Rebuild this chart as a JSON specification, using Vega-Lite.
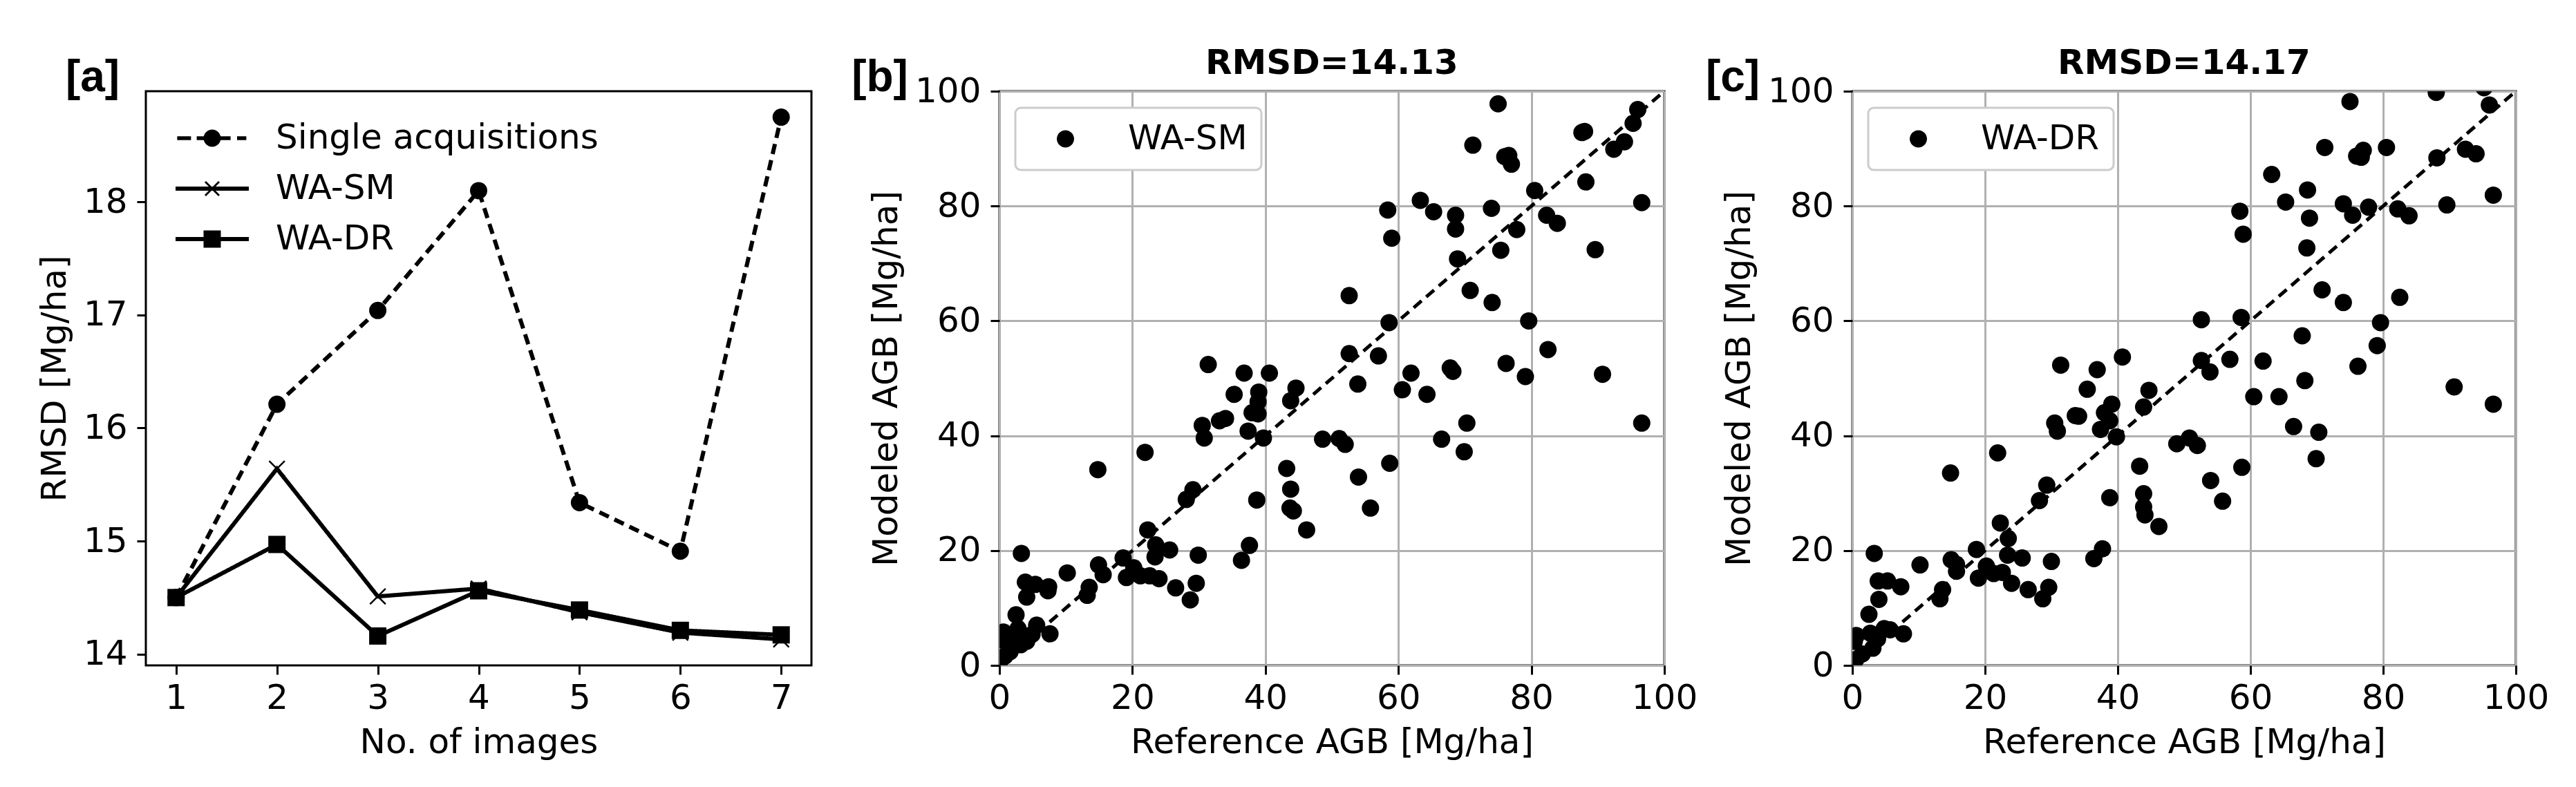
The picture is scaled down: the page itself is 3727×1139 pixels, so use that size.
{
  "$schema": "https://vega.github.io/schema/vega-lite/v6.json",
  "background": "white",
  "padding": {"left": 52, "top": 65, "right": 0, "bottom": 0},
  "bounds": "flush",
  "spacing": 272,
  "resolve": {
    "scale": {"color": "independent", "shape": "independent", "strokeDash": "independent"},
    "legend": {"color": "independent", "shape": "independent"}
  },
  "config": {
    "font": "DejaVu Sans",
    "view": {"stroke": "black", "strokeWidth": 3},
    "legend": {"strokeWidth": 3},
    "axis": {
      "domain": false,
      "tickColor": "black",
      "tickWidth": 3,
      "tickSize": 13,
      "labelColor": "black",
      "labelFontSize": 50,
      "titleColor": "black",
      "titleFontSize": 50,
      "titleFontWeight": "normal",
      "labelFlush": false,
      "labelOverlap": false,
      "gridColor": "#b0b0b0",
      "gridWidth": 3
    }
  },
  "datasets": {
    "rmsd": [
      {"images": 1, "rmsd": 14.5, "series": "Single acquisitions"},
      {"images": 2, "rmsd": 16.21, "series": "Single acquisitions"},
      {"images": 3, "rmsd": 17.04, "series": "Single acquisitions"},
      {"images": 4, "rmsd": 18.1, "series": "Single acquisitions"},
      {"images": 5, "rmsd": 15.34, "series": "Single acquisitions"},
      {"images": 6, "rmsd": 14.91, "series": "Single acquisitions"},
      {"images": 7, "rmsd": 18.75, "series": "Single acquisitions"},
      {"images": 1, "rmsd": 14.5, "series": "WA-SM"},
      {"images": 2, "rmsd": 15.64, "series": "WA-SM"},
      {"images": 3, "rmsd": 14.51, "series": "WA-SM"},
      {"images": 4, "rmsd": 14.58, "series": "WA-SM"},
      {"images": 5, "rmsd": 14.37, "series": "WA-SM"},
      {"images": 6, "rmsd": 14.19, "series": "WA-SM"},
      {"images": 7, "rmsd": 14.13, "series": "WA-SM"},
      {"images": 1, "rmsd": 14.5, "series": "WA-DR"},
      {"images": 2, "rmsd": 14.97, "series": "WA-DR"},
      {"images": 3, "rmsd": 14.16, "series": "WA-DR"},
      {"images": 4, "rmsd": 14.56, "series": "WA-DR"},
      {"images": 5, "rmsd": 14.39, "series": "WA-DR"},
      {"images": 6, "rmsd": 14.21, "series": "WA-DR"},
      {"images": 7, "rmsd": 14.17, "series": "WA-DR"}
    ],
    "one_to_one": [{"ref": 0, "mod": 0}, {"ref": 100, "mod": 100}],
    "wa_sm": [
      {"ref":75.0,"mod":97.8},{"ref":71.2,"mod":90.6},{"ref":76.0,"mod":88.6},{"ref":76.6,"mod":88.8},{"ref":77.0,"mod":87.3},
      {"ref":87.6,"mod":92.8},{"ref":88.0,"mod":93.0},{"ref":96.0,"mod":96.8},{"ref":95.3,"mod":94.4},{"ref":94.0,"mod":91.2},
      {"ref":92.4,"mod":89.9},{"ref":80.5,"mod":82.7},{"ref":88.2,"mod":84.2},{"ref":96.6,"mod":80.6},{"ref":58.4,"mod":79.3},
      {"ref":63.3,"mod":81.0},{"ref":65.3,"mod":79.0},{"ref":68.6,"mod":78.4},{"ref":68.6,"mod":76.0},{"ref":74.0,"mod":79.6},
      {"ref":82.3,"mod":78.4},{"ref":83.9,"mod":77.0},{"ref":77.8,"mod":75.9},{"ref":59.0,"mod":74.4},{"ref":75.4,"mod":72.3},
      {"ref":89.6,"mod":72.4},{"ref":68.9,"mod":70.8},{"ref":70.8,"mod":65.3},{"ref":74.1,"mod":63.2},{"ref":52.6,"mod":64.4},
      {"ref":58.6,"mod":59.7},{"ref":79.6,"mod":60.0},{"ref":52.6,"mod":54.3},{"ref":57.0,"mod":53.9},{"ref":82.5,"mod":55.0},
      {"ref":53.9,"mod":49.0},{"ref":61.9,"mod":50.9},{"ref":67.8,"mod":51.8},{"ref":68.2,"mod":51.2},{"ref":76.2,"mod":52.6},
      {"ref":79.1,"mod":50.3},{"ref":90.7,"mod":50.7},{"ref":60.6,"mod":48.0},{"ref":64.3,"mod":47.2},{"ref":70.3,"mod":42.2},
      {"ref":96.6,"mod":42.2},{"ref":66.5,"mod":39.4},{"ref":48.6,"mod":39.4},{"ref":51.1,"mod":39.5},{"ref":52.0,"mod":38.5},
      {"ref":31.4,"mod":52.4},{"ref":36.8,"mod":50.9},{"ref":40.6,"mod":50.9},{"ref":35.3,"mod":47.2},{"ref":39.0,"mod":47.6},
      {"ref":38.9,"mod":45.9},{"ref":38.0,"mod":44.0},{"ref":38.9,"mod":43.8},{"ref":44.6,"mod":48.3},{"ref":43.8,"mod":46.1},
      {"ref":33.1,"mod":42.6},{"ref":34.0,"mod":43.0},{"ref":30.5,"mod":41.8},{"ref":30.8,"mod":39.6},{"ref":37.4,"mod":40.8},
      {"ref":39.7,"mod":39.6},{"ref":21.9,"mod":37.1},{"ref":14.8,"mod":34.1},{"ref":43.2,"mod":34.3},{"ref":43.8,"mod":30.7},
      {"ref":38.7,"mod":28.8},{"ref":43.7,"mod":27.4},{"ref":44.2,"mod":26.9},{"ref":46.2,"mod":23.6},{"ref":29.1,"mod":30.6},
      {"ref":28.1,"mod":28.9},{"ref":55.8,"mod":27.4},{"ref":54.0,"mod":32.8},{"ref":58.7,"mod":35.2},{"ref":69.9,"mod":37.2},
      {"ref":22.3,"mod":23.6},{"ref":23.5,"mod":21.0},{"ref":25.6,"mod":20.1},{"ref":23.4,"mod":18.9},{"ref":29.9,"mod":19.2},
      {"ref":37.6,"mod":20.9},{"ref":36.4,"mod":18.3},{"ref":3.3,"mod":19.5},{"ref":18.6,"mod":18.7},{"ref":20.2,"mod":17.0},
      {"ref":14.9,"mod":17.5},{"ref":15.6,"mod":15.8},{"ref":19.1,"mod":15.3},{"ref":21.2,"mod":15.6},{"ref":22.6,"mod":15.6},
      {"ref":24.0,"mod":15.1},{"ref":26.5,"mod":13.5},{"ref":29.6,"mod":14.3},{"ref":28.7,"mod":11.4},{"ref":10.2,"mod":16.1},
      {"ref":3.9,"mod":14.5},{"ref":5.4,"mod":14.1},{"ref":7.4,"mod":13.7},{"ref":7.3,"mod":13.0},{"ref":4.1,"mod":11.9},
      {"ref":13.5,"mod":13.6},{"ref":13.2,"mod":12.2},{"ref":2.5,"mod":8.8},{"ref":2.8,"mod":6.4},{"ref":5.6,"mod":7.0},
      {"ref":7.6,"mod":5.5},{"ref":4.9,"mod":5.4},{"ref":4.1,"mod":4.2},{"ref":3.2,"mod":3.6},{"ref":1.6,"mod":2.4},
      {"ref":0.6,"mod":5.8},{"ref":0.4,"mod":4.4},{"ref":0.8,"mod":1.6},{"ref":2.5,"mod":5.0},{"ref":0.1,"mod":0.8}
    ],
    "wa_dr": [
      {"ref":75.0,"mod":98.2},{"ref":88.0,"mod":99.8},{"ref":95.2,"mod":100.6},{"ref":96.0,"mod":97.6},{"ref":71.2,"mod":90.2},
      {"ref":80.5,"mod":90.2},{"ref":77.0,"mod":89.7},{"ref":76.0,"mod":88.7},{"ref":76.7,"mod":88.5},{"ref":88.1,"mod":88.4},
      {"ref":92.4,"mod":89.9},{"ref":94.0,"mod":89.1},{"ref":63.2,"mod":85.5},{"ref":68.6,"mod":82.8},{"ref":65.3,"mod":80.7},
      {"ref":74.0,"mod":80.4},{"ref":77.8,"mod":79.8},{"ref":58.4,"mod":79.1},{"ref":75.4,"mod":78.4},{"ref":68.9,"mod":77.9},
      {"ref":82.2,"mod":79.5},{"ref":83.9,"mod":78.3},{"ref":89.6,"mod":80.2},{"ref":96.6,"mod":81.9},{"ref":58.9,"mod":75.1},
      {"ref":68.5,"mod":72.7},{"ref":70.8,"mod":65.4},{"ref":74.0,"mod":63.2},{"ref":82.5,"mod":64.1},{"ref":58.6,"mod":60.6},
      {"ref":52.6,"mod":60.2},{"ref":79.6,"mod":59.7},{"ref":67.8,"mod":57.4},{"ref":79.1,"mod":55.7},{"ref":52.6,"mod":53.1},
      {"ref":53.9,"mod":51.1},{"ref":56.9,"mod":53.3},{"ref":61.9,"mod":53.0},{"ref":76.2,"mod":52.1},{"ref":68.2,"mod":49.6},
      {"ref":90.7,"mod":48.5},{"ref":96.6,"mod":45.5},{"ref":60.5,"mod":46.8},{"ref":64.3,"mod":46.8},{"ref":66.5,"mod":41.6},
      {"ref":70.3,"mod":40.6},{"ref":69.9,"mod":36.0},{"ref":58.7,"mod":34.5},{"ref":54.0,"mod":32.2},{"ref":55.8,"mod":28.6},
      {"ref":40.7,"mod":53.7},{"ref":31.4,"mod":52.3},{"ref":36.9,"mod":51.5},{"ref":35.4,"mod":48.1},{"ref":39.1,"mod":45.5},
      {"ref":38.0,"mod":44.0},{"ref":38.8,"mod":42.6},{"ref":37.4,"mod":41.1},{"ref":44.7,"mod":47.9},{"ref":43.9,"mod":45.0},
      {"ref":33.6,"mod":43.5},{"ref":34.1,"mod":43.4},{"ref":30.5,"mod":42.2},{"ref":30.9,"mod":40.8},{"ref":39.8,"mod":39.8},
      {"ref":48.9,"mod":38.6},{"ref":50.8,"mod":39.6},{"ref":52.0,"mod":38.3},{"ref":21.9,"mod":37.0},{"ref":14.8,"mod":33.5},
      {"ref":43.3,"mod":34.7},{"ref":38.8,"mod":29.2},{"ref":43.9,"mod":29.9},{"ref":43.9,"mod":27.6},{"ref":44.1,"mod":26.2},
      {"ref":46.2,"mod":24.2},{"ref":29.3,"mod":31.4},{"ref":28.2,"mod":28.7},{"ref":22.3,"mod":24.8},{"ref":23.5,"mod":22.1},
      {"ref":23.4,"mod":19.2},{"ref":25.6,"mod":18.7},{"ref":30.0,"mod":18.1},{"ref":29.6,"mod":13.6},{"ref":28.7,"mod":11.6},
      {"ref":37.7,"mod":20.3},{"ref":36.4,"mod":18.6},{"ref":3.3,"mod":19.5},{"ref":18.7,"mod":20.2},{"ref":20.2,"mod":17.3},
      {"ref":14.9,"mod":18.4},{"ref":15.7,"mod":17.6},{"ref":15.7,"mod":16.4},{"ref":10.2,"mod":17.5},{"ref":19.0,"mod":15.2},
      {"ref":21.3,"mod":16.0},{"ref":22.6,"mod":16.2},{"ref":24.0,"mod":14.3},{"ref":26.5,"mod":13.2},{"ref":3.9,"mod":14.7},
      {"ref":5.3,"mod":14.7},{"ref":7.3,"mod":13.7},{"ref":4.0,"mod":11.5},{"ref":13.6,"mod":13.2},{"ref":13.2,"mod":11.6},
      {"ref":2.5,"mod":8.9},{"ref":7.7,"mod":5.5},{"ref":4.8,"mod":6.4},{"ref":5.7,"mod":6.2},{"ref":2.7,"mod":5.6},
      {"ref":0.6,"mod":5.2},{"ref":0.3,"mod":4.2},{"ref":3.8,"mod":4.6},{"ref":3.1,"mod":3.0},{"ref":1.5,"mod":2.0},{"ref":0.5,"mod":1.0}
    ]
  },
  "hconcat": [
    {
      "width": 963,
      "height": 831,
      "layer": [
        {
          "data": {"name": "rmsd"},
          "mark": {"type": "line", "color": "black", "strokeWidth": 6},
          "encoding": {
            "x": {
              "field": "images",
              "type": "quantitative",
              "scale": {"domain": [0.7, 7.3], "nice": false, "zero": false},
              "axis": {"values": [1, 2, 3, 4, 5, 6, 7], "format": "d", "grid": false, "title": "No. of images", "labelPadding": 9, "titlePadding": 14}
            },
            "y": {
              "field": "rmsd",
              "type": "quantitative",
              "scale": {"domain": [13.9, 18.98], "nice": false, "zero": false},
              "axis": {"values": [14, 15, 16, 17, 18], "format": "d", "grid": false, "title": "RMSD [Mg/ha]", "labelPadding": 14, "titlePadding": 16}
            },
            "strokeDash": {
              "field": "series",
              "type": "nominal",
              "scale": {"domain": ["WA-DR", "WA-SM", "Single acquisitions"], "range": [[1, 0], [1, 0], [15, 9]]},
              "legend": null
            }
          }
        },
        {
          "data": {"name": "rmsd"},
          "transform": [{"filter": "datum.series === 'Single acquisitions'"}],
          "mark": {"type": "point", "filled": true, "color": "black", "shape": "circle", "opacity": 1, "size": 625},
          "encoding": {
            "x": {"field": "images", "type": "quantitative"},
            "y": {"field": "rmsd", "type": "quantitative"}
          }
        },
        {
          "data": {"name": "rmsd"},
          "transform": [{"filter": "datum.series === 'WA-SM'"}],
          "mark": {"type": "point", "filled": false, "color": "black", "strokeWidth": 2.5, "shape": "M-0.9,-0.9L0.9,0.9M-0.9,0.9L0.9,-0.9", "opacity": 1, "size": 625},
          "encoding": {
            "x": {"field": "images", "type": "quantitative"},
            "y": {"field": "rmsd", "type": "quantitative"}
          }
        },
        {
          "data": {"name": "rmsd"},
          "transform": [{"filter": "datum.series === 'WA-DR'"}],
          "mark": {"type": "point", "filled": true, "color": "black", "shape": "square", "opacity": 1, "size": 625},
          "encoding": {
            "x": {"field": "images", "type": "quantitative"},
            "y": {"field": "rmsd", "type": "quantitative"}
          }
        },
        {
          "data": {"name": "rmsd"},
          "mark": {"type": "point", "filled": true, "color": "black", "opacity": 1, "size": 0},
          "encoding": {
            "x": {"field": "images", "type": "quantitative"},
            "y": {"field": "rmsd", "type": "quantitative"},
            "shape": {
              "field": "series",
              "type": "nominal",
              "scale": {
                "domain": ["Single acquisitions", "WA-SM", "WA-DR"],
                "range": [
                  "M-4.05,-.22H-2.45V.22H-4.05ZM-1.79,-.22H2.13V.22H-1.79ZM2.88,-.22H3.95V.22H2.88ZM-1,0A1,1 0 1 1 1,0A1,1 0 1 1 -1,0Z",
                  "M-4.24,-.24H4.24V.24H-4.24ZM-.88,-.72L-.72,-.88L.88,.72L.72,.88ZM-.88,.72L.72,-.88L.88,-.72L-.72,.88Z",
                  "M-4.24,-.24H4.24V.24H-4.24ZM-1,-1H1V1H-1Z"
                ]
              },
              "legend": {
                "orient": "none",
                "legendX": 71,
                "legendY": 43,
                "title": null,
                "padding": 0,
                "rowPadding": 23,
                "labelFontSize": 50,
                "labelColor": "black",
                "labelLimit": 800,
                "labelOffset": 67,
                "symbolSize": 625,
                "symbolFillColor": "black",
                "symbolStrokeWidth": 0
              }
            }
          }
        },
        {
          "data": {"values": [{"label": "[a]"}]},
          "mark": {"type": "text", "font": "Liberation Sans", "fontWeight": "bold", "fontSize": 64, "color": "black", "align": "center", "baseline": "middle", "xOffset": -77, "yOffset": -19},
          "encoding": {
            "x": {"datum": 0.7},
            "y": {"datum": 18.98},
            "text": {"field": "label"}
          }
        }
      ]
    },
    {
      "width": 962,
      "height": 831,
      "title": {"text": "RMSD=14.13", "fontSize": 50, "fontWeight": "bold", "color": "black", "offset": 14, "dy": 50},
      "layer": [
        {
          "data": {"name": "one_to_one"},
          "mark": {"type": "line", "color": "black", "strokeWidth": 5, "strokeDash": [15, 9], "clip": true},
          "encoding": {
            "x": {
              "field": "ref",
              "type": "quantitative",
              "scale": {"domain": [0, 100], "nice": false},
              "axis": {"values": [0, 20, 40, 60, 80, 100], "grid": true, "title": "Reference AGB [Mg/ha]", "labelPadding": 9, "titlePadding": 14}
            },
            "y": {
              "field": "mod",
              "type": "quantitative",
              "scale": {"domain": [0, 100], "nice": false},
              "axis": {"values": [0, 20, 40, 60, 80, 100], "grid": true, "title": "Modeled AGB [Mg/ha]", "labelPadding": 14, "titlePadding": 16}
            }
          }
        },
        {
          "data": {"name": "wa_sm"},
          "mark": {"type": "point", "filled": true, "opacity": 1, "size": 625, "clip": true},
          "encoding": {
            "x": {"field": "ref", "type": "quantitative"},
            "y": {"field": "mod", "type": "quantitative"},
            "color": {
              "datum": "WA-SM",
              "scale": {"range": ["black"]},
              "legend": {
                "orient": "none",
                "legendX": 23,
                "legendY": 24,
                "title": null,
                "padding": 20,
                "labelFontSize": 50,
                "labelColor": "black",
                "labelLimit": 400,
                "labelOffset": 93,
                "labelExpr": "datum.label + '\u00a0\u00a0'",
                "symbolType": "M1.2,0A1,1 0 1 1 3.2,0A1,1 0 1 1 1.2,0Z",
                "symbolSize": 625,
                "symbolFillColor": "black",
                "symbolStrokeWidth": 0,
                "fillColor": "white",
                "strokeColor": "#cccccc",
                "cornerRadius": 8
              }
            }
          }
        },
        {
          "data": {"values": [{"label": "[b]"}]},
          "mark": {"type": "text", "font": "Liberation Sans", "fontWeight": "bold", "fontSize": 64, "color": "black", "align": "center", "baseline": "middle", "xOffset": -173, "yOffset": -19},
          "encoding": {
            "x": {"datum": 0},
            "y": {"datum": 100},
            "text": {"field": "label"}
          }
        }
      ]
    },
    {
      "width": 960,
      "height": 831,
      "title": {"text": "RMSD=14.17", "fontSize": 50, "fontWeight": "bold", "color": "black", "offset": 14, "dy": 50},
      "layer": [
        {
          "data": {"name": "one_to_one"},
          "mark": {"type": "line", "color": "black", "strokeWidth": 5, "strokeDash": [15, 9], "clip": true},
          "encoding": {
            "x": {
              "field": "ref",
              "type": "quantitative",
              "scale": {"domain": [0, 100], "nice": false},
              "axis": {"values": [0, 20, 40, 60, 80, 100], "grid": true, "title": "Reference AGB [Mg/ha]", "labelPadding": 9, "titlePadding": 14}
            },
            "y": {
              "field": "mod",
              "type": "quantitative",
              "scale": {"domain": [0, 100], "nice": false},
              "axis": {"values": [0, 20, 40, 60, 80, 100], "grid": true, "title": "Modeled AGB [Mg/ha]", "labelPadding": 14, "titlePadding": 16}
            }
          }
        },
        {
          "data": {"name": "wa_dr"},
          "mark": {"type": "point", "filled": true, "opacity": 1, "size": 625, "clip": true},
          "encoding": {
            "x": {"field": "ref", "type": "quantitative"},
            "y": {"field": "mod", "type": "quantitative"},
            "color": {
              "datum": "WA-DR",
              "scale": {"range": ["black"]},
              "legend": {
                "orient": "none",
                "legendX": 23,
                "legendY": 24,
                "title": null,
                "padding": 20,
                "labelFontSize": 50,
                "labelColor": "black",
                "labelLimit": 400,
                "labelOffset": 93,
                "labelExpr": "datum.label + '\u00a0\u00a0'",
                "symbolType": "M1.2,0A1,1 0 1 1 3.2,0A1,1 0 1 1 1.2,0Z",
                "symbolSize": 625,
                "symbolFillColor": "black",
                "symbolStrokeWidth": 0,
                "fillColor": "white",
                "strokeColor": "#cccccc",
                "cornerRadius": 8
              }
            }
          }
        },
        {
          "data": {"values": [{"label": "[c]"}]},
          "mark": {"type": "text", "font": "Liberation Sans", "fontWeight": "bold", "fontSize": 64, "color": "black", "align": "center", "baseline": "middle", "xOffset": -173, "yOffset": -19},
          "encoding": {
            "x": {"datum": 0},
            "y": {"datum": 100},
            "text": {"field": "label"}
          }
        }
      ]
    }
  ]
}
